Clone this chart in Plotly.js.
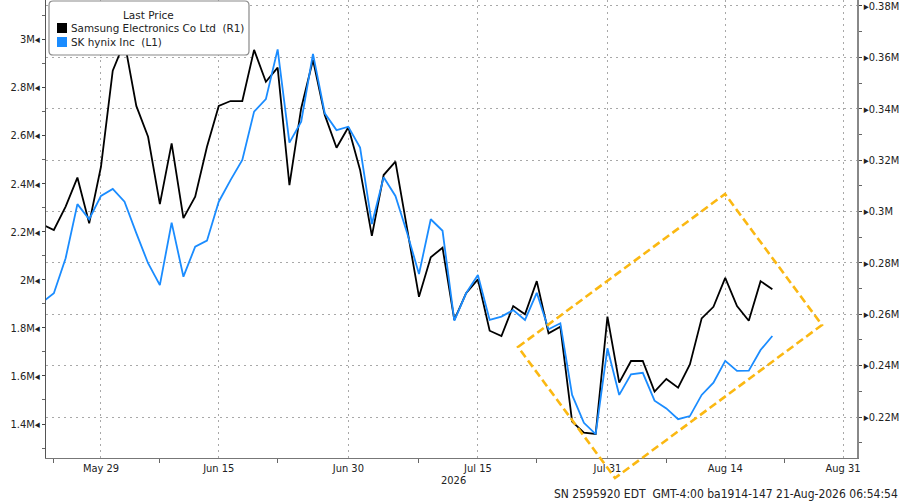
<!DOCTYPE html>
<html>
<head>
<meta charset="utf-8">
<script src="https://cdn.plot.ly/plotly-3.0.1.min.js"></script>
<style>
  html, body { margin: 0; padding: 0; background: #fff; }
  #chart { width: 900px; height: 503px; }
</style>
</head>
<body>
<div id="chart"></div>
<script>
// KRX trading days (weekends and Korean holidays skipped)
var dates = [
  "2026-05-21", "2026-05-22", "2026-05-26", "2026-05-27", "2026-05-28", "2026-05-29",
  "2026-06-01", "2026-06-02", "2026-06-04", "2026-06-05",
  "2026-06-08", "2026-06-09", "2026-06-10", "2026-06-11", "2026-06-12",
  "2026-06-15", "2026-06-16", "2026-06-17", "2026-06-18", "2026-06-19",
  "2026-06-22", "2026-06-23", "2026-06-24", "2026-06-25", "2026-06-26",
  "2026-06-29", "2026-06-30", "2026-07-01", "2026-07-02", "2026-07-03",
  "2026-07-06", "2026-07-07", "2026-07-08", "2026-07-09", "2026-07-10",
  "2026-07-13", "2026-07-14", "2026-07-15", "2026-07-16",
  "2026-07-20", "2026-07-21", "2026-07-22", "2026-07-23", "2026-07-24",
  "2026-07-27", "2026-07-28", "2026-07-29", "2026-07-30", "2026-07-31",
  "2026-08-03", "2026-08-04", "2026-08-05", "2026-08-06", "2026-08-07",
  "2026-08-10", "2026-08-11", "2026-08-12", "2026-08-13", "2026-08-14",
  "2026-08-18", "2026-08-19", "2026-08-20", "2026-08-21"
];
var holidays = ["2026-05-25", "2026-06-03", "2026-07-17", "2026-08-17"];

// Samsung Electronics (right axis, KRW)
var samsung = [
  295000, 292800, 301900, 313200, 295400, 317400,
  354800, 366000, 341100, 329100,
  302900, 326500, 297400, 305800, 325200,
  341100, 343000, 343000, 362900, 350500,
  356000, 310300, 340200, 359000, 337600,
  324800, 332800, 316200, 290500, 314200,
  319400, 293500, 266800, 282200, 285900,
  257800, 268200, 273600, 253600,
  251500, 263200, 260000, 272900, 252600,
  255200, 218200, 213900, 213400, 259100,
  233400, 241800, 241800, 229900, 234800,
  231400, 240500, 258400, 262900, 274200,
  263200, 257500, 272900, 269700
];

// SK hynix (left axis, KRW)
var hynix = [
  1906000, 1944000, 2090000, 2315000, 2252000, 2349000,
  2378000, 2325000, 2194000, 2069000,
  1978000, 2238000, 2013000, 2138000, 2163000,
  2325000, 2415000, 2499000, 2700000, 2752000,
  2959000, 2571000, 2658000, 2940000, 2693000,
  2623000, 2637000, 2550000, 2232000, 2427000,
  2349000, 2194000, 2024000, 2252000, 2204000,
  1830000, 1944000, 2020000, 1833000,
  1847000, 1874000, 1833000, 1946000, 1794000,
  1819000, 1521000, 1405000, 1358000, 1715000,
  1521000, 1607000, 1613000, 1497000, 1465000,
  1420000, 1433000, 1521000, 1572000, 1663000,
  1621000, 1622000, 1708000, 1766000
];

var xTickVals = ["2026-05-29", "2026-06-15", "2026-06-30", "2026-07-15", "2026-07-31", "2026-08-14", "2026-08-31"];
var xTickText = ["May 29", "Jun 15", "Jun 30", "Jul 15", "Jul 31", "Aug 14", "Aug 31"];
var xMinorVals = ["2026-05-22", "2026-06-08", "2026-06-22", "2026-07-08", "2026-07-23", "2026-08-07", "2026-08-24"];

var leftTickVals = [1400000, 1600000, 1800000, 2000000, 2200000, 2400000, 2600000, 2800000, 3000000];
var leftTickText = ["1.4M", "1.6M", "1.8M", "2M", "2.2M", "2.4M", "2.6M", "2.8M", "3M"];
var leftMinorVals = [1300000, 1500000, 1700000, 1900000, 2100000, 2300000, 2500000, 2700000, 2900000, 3100000];

var rightTickVals = [220000, 240000, 260000, 280000, 300000, 320000, 340000, 360000, 380000];
var rightTickText = ["0.22M", "0.24M", "0.26M", "0.28M", "0.3M", "0.32M", "0.34M", "0.36M", "0.38M"];
var rightMinorVals = [210000, 230000, 250000, 270000, 290000, 310000, 330000, 350000, 370000];

var legendTitle = "Last Price";
var names = ["Samsung Electronics Co Ltd\u00a0\u00a0(R1)", "SK hynix Inc\u00a0\u00a0(L1)"];
var colors = ["#000000", "#1a8cff"];

var condensed = "DejaVu Sans Condensed, Liberation Sans Narrow, DejaVu Sans, sans-serif";
var tickFont = { family: condensed, size: 11, color: "#222" };
var legendFont = { family: "DejaVu Sans, sans-serif", size: 10.4, color: "#222" };
var gridDash = "2px,4px";

var data = [
  {
    x: dates, y: samsung, yaxis: "y", type: "scatter", mode: "lines", name: names[0],
    line: { color: colors[0], width: 1.8 }, showlegend: false, hoverinfo: "skip"
  },
  {
    x: dates, y: hynix, yaxis: "y2", type: "scatter", mode: "lines", name: names[1],
    line: { color: colors[1], width: 1.8 }, showlegend: false, hoverinfo: "skip"
  }
];

// legend box drawn by hand (Bloomberg style: square swatches close to the text)
var bx0 = 0.0037, bx1 = 0.2503, by0 = 0.8799, by1 = 0.9978, rx = 0.005, ry = 0.009;
var legendBox = "M " + (bx0 + rx) + " " + by1 +
  " L " + (bx1 - rx) + " " + by1 + " Q " + bx1 + " " + by1 + " " + bx1 + " " + (by1 - ry) +
  " L " + bx1 + " " + (by0 + ry) + " Q " + bx1 + " " + by0 + " " + (bx1 - rx) + " " + by0 +
  " L " + (bx0 + rx) + " " + by0 + " Q " + bx0 + " " + by0 + " " + bx0 + " " + (by0 + ry) +
  " L " + bx0 + " " + (by1 - ry) + " Q " + bx0 + " " + by1 + " " + (bx0 + rx) + " " + by1 + " Z";

var layout = {
  width: 900, height: 503,
  margin: { l: 46, r: 43, t: 0, b: 45 },
  paper_bgcolor: "#fff", plot_bgcolor: "#fff",
  font: { family: "DejaVu Sans, sans-serif", size: 12, color: "#222" },
  showlegend: false,
  xaxis: {
    type: "date",
    range: ["2026-05-21 08:00", "2026-09-01 04:30"],
    rangebreaks: [{ bounds: ["sat", "mon"] }, { values: holidays }],
    tickmode: "array", tickvals: xTickVals, ticktext: xTickText,
    ticks: "", tickfont: tickFont,
    showgrid: true, gridcolor: "#a8a8a8", griddash: gridDash, gridwidth: 1,
    minor: { tickmode: "array", tickvals: xMinorVals, ticks: "outside", ticklen: 4, tickcolor: "#666", showgrid: false },
    showline: true, linecolor: "#777", linewidth: 1,
    zeroline: false, fixedrange: true
  },
  yaxis: {
    side: "right",
    range: [204050, 382330],
    tickmode: "array", tickvals: rightTickVals,
    ticktext: rightTickText.map(function (t) { return "\u25B8" + t; }),
    ticks: "outside", ticklen: 3, tickcolor: "#444", tickfont: tickFont,
    ticklabeloverflow: "allow",
    showgrid: true, gridcolor: "#a8a8a8", griddash: gridDash, gridwidth: 1,
    minor: { tickmode: "array", tickvals: rightMinorVals, ticks: "outside", ticklen: 3, tickcolor: "#666", showgrid: false },
    showline: true, linecolor: "#888", linewidth: 1.5,
    zeroline: false, fixedrange: true
  },
  yaxis2: {
    side: "left", overlaying: "y",
    range: [1258500, 3164400],
    tickmode: "array", tickvals: leftTickVals,
    ticktext: leftTickText.map(function (t) { return t + "\u25C2"; }),
    ticks: "outside", ticklen: 3, tickcolor: "#444", tickfont: tickFont,
    ticklabeloverflow: "allow",
    showgrid: false,
    minor: { tickmode: "array", tickvals: leftMinorVals, ticks: "outside", ticklen: 3, tickcolor: "#666", showgrid: false },
    showline: true, linecolor: "#555", linewidth: 1,
    zeroline: false, fixedrange: true
  },
  shapes: [
    {
      type: "path", xref: "paper", yref: "paper", layer: "above",
      path: legendBox, fillcolor: "#fff", line: { color: "#8a8a8a", width: 1.2 }
    },
    {
      type: "rect", xref: "paper", yref: "paper", layer: "above",
      x0: 0.01356, x1: 0.02589, y0: 0.92795, y1: 0.94978,
      fillcolor: colors[0], line: { width: 0 }
    },
    {
      type: "rect", xref: "paper", yref: "paper", layer: "above",
      x0: 0.01356, x1: 0.02589, y0: 0.89738, y1: 0.91921,
      fillcolor: colors[1], line: { width: 0 }
    },
    {
      type: "path", xref: "paper", yref: "paper", layer: "above",
      path: "M 0.582 0.2424 L 0.8372 0.5764 L 0.9568 0.2904 L 0.7016 -0.0437 Z",
      line: { color: "#fbb812", width: 2.6, dash: "8px,4px" }
    }
  ],
  annotations: [
    {
      text: legendTitle, xref: "paper", yref: "paper", x: 0.127, y: 0.96725,
      xanchor: "center", yanchor: "middle", showarrow: false,
      font: { family: legendFont.family, size: 10.5, color: "#222" }
    },
    {
      text: names[0], xref: "paper", yref: "paper", x: 0.0284, y: 0.93886,
      xanchor: "left", yanchor: "middle", showarrow: false, font: legendFont
    },
    {
      text: names[1], xref: "paper", yref: "paper", x: 0.0284, y: 0.9083,
      xanchor: "left", yanchor: "middle", showarrow: false, font: legendFont
    },
    {
      text: "2026", xref: "paper", yref: "paper", x: 0.502, y: -0.05,
      xanchor: "center", yanchor: "middle", showarrow: false, font: tickFont
    },
    {
      text: "SN 2595920 EDT\u00a0\u00a0GMT-4:00 ba1914-147 21-Aug-2026 06:54:54",
      xref: "paper", yref: "paper", x: 1.053, y: -0.079,
      xanchor: "right", yanchor: "middle", showarrow: false,
      font: { family: condensed, size: 12, color: "#222" }
    }
  ]
};

Plotly.newPlot("chart", data, layout, { displayModeBar: false, staticPlot: true });
</script>
</body>
</html>
